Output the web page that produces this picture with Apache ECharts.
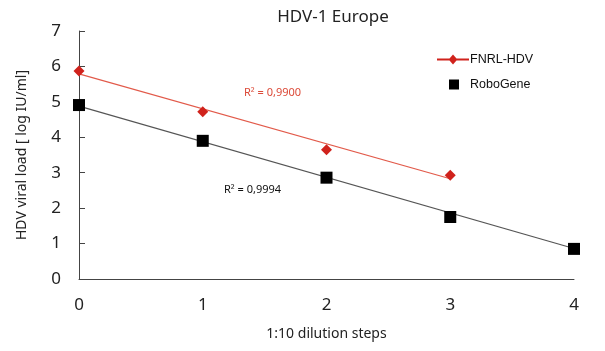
<!DOCTYPE html>
<html><head><meta charset="utf-8">
<script src="https://cdn.jsdelivr.net/npm/echarts@6/dist/echarts.min.js"></script>
<style>html,body{margin:0;padding:0;background:#fff}#c{width:605px;height:351px}</style>
</head><body><div id="c"></div>
<script>
var steps = [0, 1, 2, 3, 4];
var fnrlValues = [5.87, 4.72, 3.65, 2.93];
var roboValues = [4.91, 3.9, 2.86, 1.75, 0.85];
var fnrlTrend = [[0, 5.79], [3, 2.83]];
var roboTrend = [[0, 4.88], [4, 0.86]];
var yTicks = [0, 1, 2, 3, 4, 5, 6, 7];

var font = "'Noto Sans', 'Open Sans', sans-serif";
var chart = echarts.init(document.getElementById('c'));
chart.setOption({
  animation: false,
  backgroundColor: '#fff',
  title: {text: 'HDV-1 Europe', left: 328, textAlign: 'center', top: 4,
    textStyle: {fontFamily: font, fontSize: 17, fontWeight: 'normal', color: '#222'}},
  grid: {left: 79, right: 31, top: 31, bottom: 72},
  legend: [
    {data: ['FNRL-HDV'], left: 432, top: 48, itemWidth: 32, itemHeight: 10, itemGap: 2,
      icon: 'path://M0,4 L12.5,4 L16,0 L19.5,4 L32,4 L32,6 L19.5,6 L16,10 L12.5,6 L0,6 Z',
      textStyle: {fontFamily: "'Liberation Sans', Arial, sans-serif", fontSize: 12.5, color: '#111', padding: [0,0,0,-4]}},
    {data: ['RoboGene'], left: 444, top: 73, itemWidth: 10, itemHeight: 10,
      icon: 'rect',
      textStyle: {fontFamily: "'Liberation Sans', Arial, sans-serif", fontSize: 12.5, color: '#111', padding: [0,0,0,6]}}
  ],
  xAxis: {type: 'value', min: 0, max: 4, interval: 1,
    name: '1:10 dilution steps', nameLocation: 'middle', nameGap: 48,
    nameTextStyle: {fontFamily: font, fontSize: 14, color: '#222'},
    axisLine: {lineStyle: {color: '#444'}}, axisTick: {show: false}, splitLine: {show: false},
    axisLabel: {fontFamily: font, fontSize: 17, color: '#222', margin: 18}},
  yAxis: {type: 'value', min: 0, max: 7, interval: 1,
    name: 'HDV viral load [ log IU/ml]', nameLocation: 'middle', nameGap: 50,
    nameTextStyle: {fontFamily: font, fontSize: 14, color: '#222'},
    axisLine: {show: true, lineStyle: {color: '#444'}},
    axisTick: {show: true, inside: true, length: 6, lineStyle: {color: '#444'}},
    splitLine: {show: false},
    axisLabel: {fontFamily: font, fontSize: 17, color: '#222', margin: 18,
      formatter: function (v) { return yTicks.indexOf(v) >= 0 ? String(v) : ''; }}},
  graphic: [
    {type: 'text', left: 244, top: 87, style: {text: 'R² = 0,9900', fontFamily: font, fontSize: 11, fill: '#dc4a38'}},
    {type: 'text', left: 224, top: 184, style: {text: 'R² = 0,9994', fontFamily: font, fontSize: 11, fill: '#111'}}
  ],
  series: [
    {name: 'fnrlTrend', type: 'line', data: fnrlTrend, symbol: 'none', silent: true,
      lineStyle: {color: '#e25a4a', width: 1.2}, z: 1},
    {name: 'roboTrend', type: 'line', data: roboTrend, symbol: 'none', silent: true,
      lineStyle: {color: '#555', width: 1.2}, z: 1},
    {name: 'FNRL-HDV', type: 'scatter', data: steps.slice(0, fnrlValues.length).map(function (x, i) { return [x, fnrlValues[i]]; }),
      symbol: 'diamond', symbolSize: 11, itemStyle: {color: '#d0221c', opacity: 1}, z: 3},
    {name: 'RoboGene', type: 'scatter', data: steps.map(function (x, i) { return [x, roboValues[i]]; }),
      symbol: 'rect', symbolSize: 12, itemStyle: {color: '#000', opacity: 1}, z: 3}
  ]
});
</script></body></html>
